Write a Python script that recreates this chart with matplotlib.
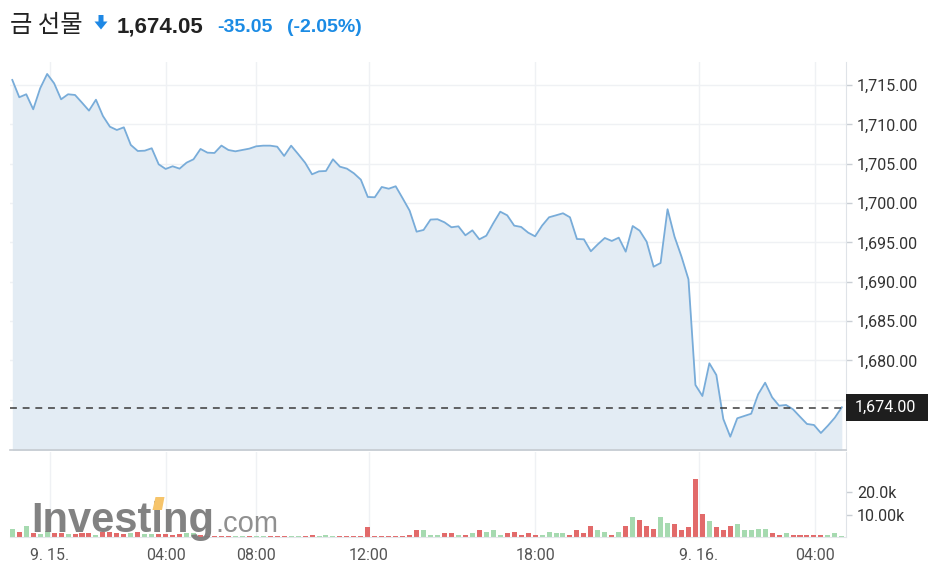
import matplotlib
matplotlib.use('Agg')
import matplotlib.pyplot as plt
from matplotlib.patches import Polygon, Rectangle
from matplotlib.transforms import blended_transform_factory

plt.rcParams['font.family'] = ['Roboto', 'Noto Sans CJK KR', 'DejaVu Sans']

# 가격 (15분 간격 근사)
prices = [
    1715.64, 1713.44, 1713.82, 1711.91, 1714.58, 1716.40, 1715.21, 1713.18, 1713.82, 1713.73,
    1712.75, 1711.74, 1713.13, 1711.06, 1709.70, 1709.28, 1709.62, 1707.38, 1706.61, 1706.65,
    1706.96, 1704.92, 1704.33, 1704.67, 1704.37, 1705.13, 1705.56, 1706.87, 1706.40, 1706.36,
    1707.30, 1706.74, 1706.57, 1706.74, 1706.91, 1707.21, 1707.29, 1707.29, 1707.16, 1705.98,
    1707.29, 1706.23, 1705.13, 1703.65, 1704.03, 1704.07, 1705.56, 1704.62, 1704.37, 1703.78,
    1702.97, 1700.77, 1700.73, 1702.04, 1701.82, 1702.13, 1700.60, 1699.03, 1696.36, 1696.58,
    1697.90, 1697.94, 1697.55, 1696.92, 1697.04, 1695.90, 1696.53, 1695.39, 1695.85, 1697.43,
    1698.90, 1698.44, 1697.13, 1696.96, 1696.24, 1695.77, 1697.13, 1698.19, 1698.44, 1698.70,
    1698.19, 1695.43, 1695.39, 1693.87, 1694.76, 1695.56, 1695.18, 1695.60, 1693.82, 1697.08,
    1696.49, 1695.09, 1691.91, 1692.38, 1699.21, 1695.73, 1693.19, 1690.31, 1676.88, 1675.48,
    1679.64, 1678.15, 1672.56, 1670.31, 1672.65, 1672.94, 1673.23, 1675.70, 1677.17, 1675.32,
    1674.25, 1674.34, 1673.79, 1672.85, 1671.93, 1671.80, 1670.78, 1671.71, 1672.73, 1674.05,
]

# 거래량 (천 단위) 와 상승(1)/하락(0)
volume_k = [
    3.7, 2.4, 4.9, 1.9, 1.5, 2.7, 1.9, 1.6, 1.2, 1.2,
    1.6, 1.6, 0.9, 2.4, 2.4, 1.6, 1.5, 1.6, 2.2, 1.5,
    1.2, 1.2, 1.2, 0.9, 1.2, 1.9, 1.9, 0.9, 0.5, 0.5,
    0.5, 0.5, 0.4, 0.5, 0.4, 0.4, 0.5, 0.4, 0.5, 0.5,
    0.5, 0.5, 0.5, 0.9, 0.5, 0.9, 0.5, 0.5, 0.5, 0.5,
    0.5, 4.3, 0.5, 0.5, 0.5, 0.5, 0.5, 0.9, 3.0, 3.0,
    0.9, 0.9, 1.6, 1.6, 0.9, 0.9, 1.6, 3.0, 2.2, 3.0,
    0.9, 1.6, 2.4, 0.9, 1.6, 0.9, 0.9, 2.4, 1.6, 1.6,
    0.9, 3.0, 1.6, 4.9, 3.0, 2.4, 0.9, 2.4, 4.9, 9.0,
    7.6, 4.9, 3.7, 9.0, 6.4, 5.7, 3.0, 4.3, 25.8, 10.4,
    7.2, 4.3, 3.0, 4.9, 5.7, 3.0, 3.0, 3.7, 3.7, 1.6,
    0.9, 1.6, 0.9, 0.9, 0.9, 0.9, 0.9, 0.9, 1.6, 0.3,
]
vol_up = [
    1, 0, 1, 0, 1, 1, 0, 0, 1, 0,
    0, 0, 1, 0, 0, 0, 0, 1, 0, 1,
    1, 0, 0, 0, 0, 1, 1, 0, 0, 0,
    0, 0, 1, 1, 0, 1, 1, 0, 0, 0,
    1, 1, 0, 0, 1, 1, 1, 0, 0, 0,
    0, 0, 0, 0, 0, 0, 0, 0, 0, 1,
    1, 1, 0, 0, 1, 0, 1, 0, 1, 1,
    1, 0, 0, 0, 0, 0, 1, 1, 1, 1,
    0, 0, 0, 0, 1, 1, 0, 1, 0, 1,
    0, 0, 0, 1, 1, 0, 0, 0, 0, 0,
    1, 0, 0, 0, 1, 1, 1, 1, 1, 0,
    0, 1, 0, 0, 0, 0, 0, 1, 1, 1,
]

time_tick_pos = [5.4, 22.0, 35.0, 51.1, 75.0, 98.5, 115.1]
time_tick_labels = ['9. 15.', '04:00', '08:00', '12:00', '18:00', '9. 16.', '04:00']
price_ticks = [1675, 1680, 1685, 1690, 1695, 1700, 1705, 1710, 1715]
vol_ticks = [10000, 20000]
vol_tick_labels = ['10.00k', '20.0k']
last_price = 1674.00

W, H = 935, 574


def fx(x):
    return x / W


def fy(y):
    return 1 - y / H


fig = plt.figure(figsize=(W / 100, H / 100), dpi=100)
ax = fig.add_axes([fx(10), fy(450), 836 / W, 388 / H])
axv = fig.add_axes([fx(10), fy(537), 836 / W, 85 / H])

grid_c = '#eff1f4'
label_c = '#333333'

x = list(range(len(prices)))
ax.fill_between(x, prices, 1660, color='#e3ecf4', lw=0, zorder=1)
ax.plot(x, prices, color='#78acd9', lw=1.3, zorder=3)
ax.axhline(last_price, color='#3a3a3a', lw=1.1, dashes=(4.5, 3.8), zorder=4)

ax.set_xlim(-0.33, 119.6)
ax.set_ylim(1668.62, 1717.92)
ax.set_xticks(time_tick_pos)
ax.set_xticklabels([])
ax.set_yticks(price_ticks)
ax.set_yticklabels([f'{v:,.2f}' for v in price_ticks])
ax.yaxis.tick_right()
ax.tick_params(axis='x', length=0)
ax.tick_params(axis='y', length=4, width=1, color='#c9ced4', pad=4,
               labelsize=11.5, labelcolor=label_c)
ax.grid(True, color=grid_c, lw=1, zorder=0)
ax.set_axisbelow(True)
for s in ['left', 'top']:
    ax.spines[s].set_visible(False)
ax.spines['bottom'].set_color('#c6cbd1')
ax.spines['bottom'].set_linewidth(1.2)
ax.spines['right'].set_color('#dfe3e8')

# 현재가 라벨
tr = blended_transform_factory(ax.transAxes, ax.transData)
ax.add_patch(Rectangle((1.0, last_price - 1.72), 82 / 836, 3.44, transform=tr,
                       facecolor='#1e1e1e', edgecolor='none', clip_on=False, zorder=10))
ax.text(1.0 + 9 / 836, last_price, f'{last_price:,.2f}', transform=tr, ha='left',
        va='center', color='white', fontsize=11.5, zorder=11, clip_on=False)

# 거래량
colors = ['#a6dab0' if u else '#e26a6a' for u in vol_up]
axv.bar(x, [v * 1000 for v in volume_k], width=0.72, color=colors, zorder=2)
axv.set_xlim(-0.33, 119.6)
axv.set_ylim(0, 38100)
axv.set_xticks(time_tick_pos)
axv.set_xticklabels(time_tick_labels)
axv.set_yticks(vol_ticks)
axv.set_yticklabels(vol_tick_labels)
axv.yaxis.tick_right()
axv.tick_params(axis='x', length=0, pad=8, labelsize=11.5, labelcolor='#555555')
axv.tick_params(axis='y', length=4, width=1, color='#c9ced4', pad=4,
                labelsize=11.5, labelcolor=label_c)
axv.grid(True, axis='x', color=grid_c, lw=1, zorder=0)
axv.set_axisbelow(True)
for s in ['left', 'top']:
    axv.spines[s].set_visible(False)
axv.spines['bottom'].set_color('#e3e6ea')
axv.spines['right'].set_color('#dfe3e8')

# 워터마크
fig.text(fx(31), fy(532), 'Investing', fontsize=30, fontweight='bold',
         family='Liberation Sans', color='#7b7b7b', alpha=0.95, zorder=20)
fig.text(fx(215), fy(532), '.com', fontsize=21, family='Liberation Sans',
         color='#8a8a8a', alpha=0.95, zorder=20)
fig.add_artist(Polygon([(fx(152.5), fy(510)), (fx(162), fy(510)), (fx(164.5), fy(497)),
                        (fx(155.5), fy(497))], closed=True, facecolor='#f6c46a',
                       edgecolor='none', zorder=21))

# 제목
fig.text(fx(10), fy(32), '금 선물', fontsize=17.5, family=['Noto Sans CJK KR', 'DejaVu Sans'],
         color='#222222', va='baseline')
fig.add_artist(Polygon([(fx(98.5), fy(15)), (fx(103.5), fy(15)), (fx(103.5), fy(21.5)),
                        (fx(107.5), fy(21.5)), (fx(101), fy(29.5)), (fx(94.5), fy(21.5)),
                        (fx(98.5), fy(21.5))], closed=True, facecolor='#1e88e5',
                       edgecolor='none'))
fig.text(fx(117), fy(32), '1,674.05', fontsize=16, fontweight='bold',
         family='Liberation Sans', color='#222222', va='baseline')
fig.text(fx(217), fy(32), '-35.05', fontsize=14, fontweight='bold',
         family='Liberation Sans', color='#1b8be4', va='baseline')
fig.text(fx(287), fy(32), '(-2.05%)', fontsize=14, fontweight='bold',
         family='Liberation Sans', color='#1b8be4', va='baseline')

fig.savefig('out.png', dpi=100)
